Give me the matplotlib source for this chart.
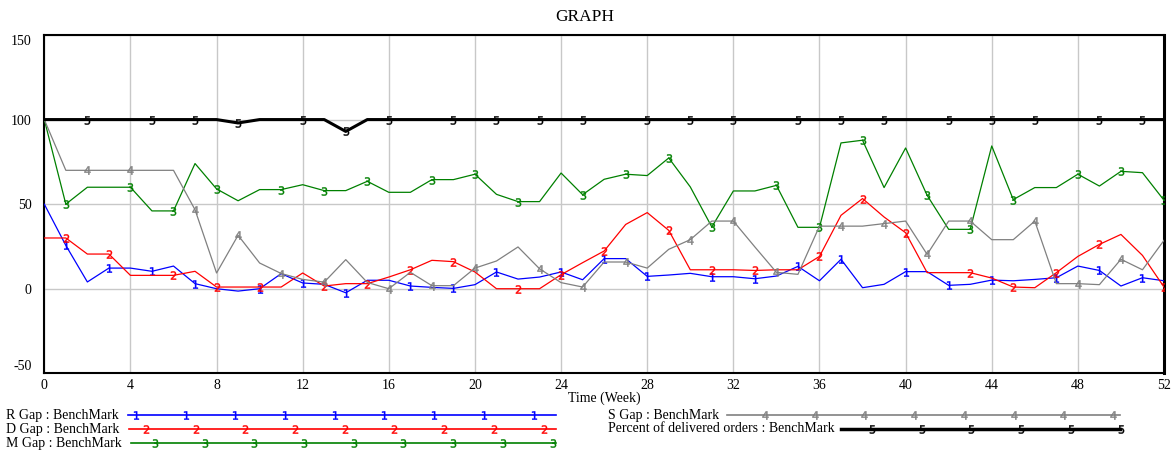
import numpy as np
import matplotlib
matplotlib.use("Agg")
import matplotlib.pyplot as plt

plt.rcParams["font.family"] = ["Liberation Serif", "DejaVu Serif"]
plt.rcParams["axes.unicode_minus"] = False

# =====================
# data (weeks 0..52)
# =====================
weeks = list(range(53))

r_gap = [50, 25.6, 4, 12.2, 12.2, 10.3, 13.4, 3, 0, -1.4, 0, 8.9, 3.4, 2.6, -2.4, 5, 5, 1.6,
         0.8, 0.2, 2.4, 9.9, 5.7, 6.9, 9.9, 5.3, 17.8, 17.8, 7.3, 8.1, 9.1, 7.1, 7.1, 5.9, 7.5,
         13.2, 4.7, 17.4, 0.6, 2.6, 10.1, 10.1, 2, 2.6, 5.1, 4.7, 5.5, 6.5, 13.4, 10.8, 1.6, 6.5, 4.7]

d_gap = [30, 30, 20.5, 20.5, 7.9, 7.9, 7.9, 10.3, 1, 1, 1, 1, 9.3, 1.6, 3, 3, 6.9, 11.2,
         16.8, 16, 9.9, 0, 0, 0, 8.3, 15.4, 22.3, 38, 45, 34.5, 11.2, 11.2, 11.2, 10.8, 11.2,
         11.2, 19.1, 43.4, 53.3, 42.4, 33.1, 9.5, 9.5, 9.5, 6.3, 1, 0.6, 9.5, 19.1, 26.2, 32.1, 19.7, 1]

m_gap = [100, 50, 60, 60, 60, 46, 46, 74, 59, 52, 58.6, 58.6, 61.5, 58, 58, 63.5, 57, 57,
         64.5, 64.5, 67.7, 55.8, 51.5, 51.5, 68.4, 55.6, 64.7, 67.7, 66.9, 77.3, 60.2, 36.5, 57.8,
         57.8, 61.1, 36.3, 36.3, 86.2, 87.8, 59.8, 83.2, 55.2, 35.1, 35.1, 84.4, 52.7, 59.8, 59.8,
         67.7, 60.7, 69.4, 68.6, 52.3]

s_gap = [100, 70, 70, 70, 70, 70, 70, 46.7, 9.3, 31.6, 15.2, 9, 5.5, 3.9, 17.2, 3.7, 0, 9.7,
         1.8, 1.8, 12.2, 16.4, 24.7, 11.8, 3.6, 1, 15.8, 15.8, 12.2, 23.3, 29, 40, 40, 24.7, 9.7,
         8.5, 37, 37, 37, 38.5, 40, 20.3, 40, 40, 29, 29, 40, 3, 3, 2.4, 17.4, 11.2, 28.6]

delivered = [100] * 9 + [98] + [100] * 4 + [93] + [100] * 38

labels = ["R Gap : BenchMark", "D Gap : BenchMark", "M Gap : BenchMark",
          "S Gap : BenchMark", "Percent of delivered orders : BenchMark"]

# =====================
# style
# =====================
colors = ["#0000ff", "#ff0000", "#008000", "#808080", "#000000"]
widths = [0.9, 0.9, 0.9, 0.9, 2.2]
digits = ["1", "2", "3", "4", "5"]
mark_weeks = [
    [1, 3, 5, 7, 10, 12, 14, 17, 19, 21, 24, 26, 28, 31, 33, 35, 37, 40, 42, 44, 47, 49, 51],
    [1, 3, 6, 8, 10, 13, 15, 17, 19, 22, 24, 26, 29, 31, 33, 36, 38, 40, 43, 45, 47, 49, 52],
    [1, 4, 6, 8, 11, 13, 15, 18, 20, 22, 25, 27, 29, 31, 34, 36, 38, 41, 43, 45, 48, 50, 52],
    [2, 4, 7, 9, 11, 13, 16, 18, 20, 23, 25, 27, 30, 32, 34, 37, 39, 41, 43, 46, 48, 50],
    [2, 5, 7, 9, 12, 14, 16, 19, 21, 23, 25, 28, 30, 32, 35, 37, 39, 42, 44, 46, 49, 51],
]

W, H = 1172, 450
fig = plt.figure(figsize=(W / 100, H / 100), dpi=100)
ax = fig.add_axes([44.3 / W, 1 - 373.3 / H, (1164 - 44.3) / W, (373.3 - 35) / H])

series = [r_gap, d_gap, m_gap, s_gap, delivered]
for i, vals in enumerate(series):
    ax.plot(weeks, vals, color=colors[i], lw=widths[i], zorder=3 + i,
            marker="$" + digits[i] + "$", markevery=mark_weeks[i],
            markersize=6, markeredgewidth=0.3, markerfacecolor=colors[i],
            markeredgecolor=colors[i])

ax.set_xlim(0, 52)
ax.set_ylim(-50, 150)
ax.set_xticks(range(0, 53, 4))
ax.set_yticks([-50, 0, 50, 100, 150])
ax.grid(True, color="#c8c8c8", lw=1)
ax.set_axisbelow(True)
ax.tick_params(length=0, labelsize=10)
ax.tick_params(axis="y", pad=9)
ax.tick_params(axis="x", pad=4)
ylabs = ax.get_yticklabels()
ylabs[0].set_va("bottom")
ylabs[-1].set_va("top")
for sp in ax.spines.values():
    sp.set_color("black")
    sp.set_linewidth(1.5)
ax.spines["right"].set_linewidth(2.2)
ax.set_xlabel("Time (Week)", fontsize=10, labelpad=0)

fig.text(585 / W, 1 - 17 / H, "GRAPH", fontsize=12.5, ha="center", va="center")

# =====================
# legend (Vensim style, drawn in pixel units)
# =====================
lg = fig.add_axes([0, 0, 1, 1])
lg.set_xlim(0, W)
lg.set_ylim(H, 0)
lg.axis("off")

rows = [(6, 415, 128, 556, 136), (6, 429, 129, 556, 146), (6, 443, 131, 556, 155),
        (608, 415, 727, 1120, 765), (608, 429, 841, 1120, 872)]
for i, (tx, ty, x0, x1, m0) in enumerate(rows):
    lg.text(tx, ty, labels[i], fontsize=10, va="center", ha="left")
    lg.plot([x0, x1], [ty, ty], color=colors[i], lw=widths[i] + 0.3)
    mx = np.arange(m0, x1 + 1, 49.7)
    lg.plot(mx, [ty] * len(mx), ls="none", marker="$" + digits[i] + "$",
            markersize=6, markeredgewidth=0.3, color=colors[i])

fig.savefig("out.png", dpi=100)
